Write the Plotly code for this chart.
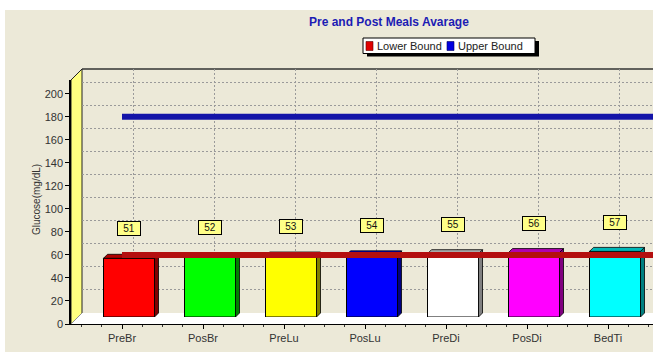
import plotly.graph_objects as go

# ---- data -------------------------------------------------------------
categories = ["PreBr", "PosBr", "PreLu", "PosLu", "PreDi", "PosDi", "BedTi"]
averages = [51, 52, 53, 54, 55, 56, 57]
lower_bound = 60
upper_bound = 180
y_ticks = list(range(0, 201, 20))

face_colors = ["#FF0000", "#00FF00", "#FFFF00", "#0000FF", "#FFFFFF", "#FF00FF", "#00FFFF"]
top_colors = ["#B00000", "#00B000", "#B0B000", "#0000B0", "#A8A8A8", "#B000B0", "#00B8B8"]
side_colors = ["#800000", "#008000", "#808000", "#000080", "#808080", "#800080", "#008080"]

# ---- geometry (pixels) -------------------------------------------------
W, H = 653, 352
H_DRAW = 346                  # vertical extent used when placing in paper units
FRONT_LEFT, RIGHT = 71, 653
FRONT_BOTTOM, FRONT_TOP = 324, 80
CAT0, STEP = 122, 81          # pixel of first category centre, px per category
Y_MAX = 212
BAR_DEPTH = 7                 # depth at which the bars stand
WALL_DEPTH = 11               # depth of the back wall
PX_PER_Y = (FRONT_BOTTOM - FRONT_TOP) / Y_MAX
FONT = "Liberation Sans, Arial, sans-serif"


def px(x):
    return x / W


def py(y):
    return 1 - y / H_DRAW


def plane(d):
    """Axis domains/ranges for a plane pushed d pixels into the depth."""
    xdom = [px(FRONT_LEFT + d), px(RIGHT)]
    xrng = [(FRONT_LEFT - CAT0) / STEP, (RIGHT - (CAT0 + d)) / STEP]
    ydom = [py(FRONT_BOTTOM - d), py(FRONT_TOP - d)]
    return xdom, xrng, ydom


def path(points):
    return "M " + " L ".join(f"{px(x)},{py(y)}" for x, y in points) + " Z"


back_x, back_xr, back_y = plane(WALL_DEPTH)
bar_x, bar_xr, bar_y = plane(BAR_DEPTH)
fr_x, fr_xr, fr_y = plane(0)

fig = go.Figure()

# invisible anchor trace so the back-wall subplot is laid out with its grid
fig.add_trace(go.Scatter(x=[0], y=[0], xaxis="x", yaxis="y", mode="markers",
                         marker=dict(opacity=0), showlegend=False, hoverinfo="skip"))

# ---- bars (bar plane) --------------------------------------------------
idx = list(range(len(categories)))
bw = 51 / STEP
dx = 4 / STEP
dy = 4 / PX_PER_Y

fig.add_trace(go.Bar(
    x=idx, y=averages, width=bw, xaxis="x2", yaxis="y2",
    marker=dict(color=face_colors, line=dict(color="black", width=1)),
    name="Average", showlegend=False, hoverinfo="x+y",
))

for i, v in enumerate(averages):
    xl, xr = i - bw / 2, i + bw / 2
    fig.add_trace(go.Scatter(
        x=[xr, xr + dx, xr + dx, xr, xr], y=[0, dy, v + dy, v, 0],
        xaxis="x2", yaxis="y2", mode="lines", fill="toself",
        fillcolor=side_colors[i], line=dict(color="black", width=0.8),
        showlegend=False, hoverinfo="skip",
    ))
    fig.add_trace(go.Scatter(
        x=[xl, xl + dx, xr + dx, xr, xl], y=[v, v + dy, v + dy, v, v],
        xaxis="x2", yaxis="y2", mode="lines", fill="toself",
        fillcolor=top_colors[i], line=dict(color="black", width=0.8),
        showlegend=False, hoverinfo="skip",
    ))

# ---- bound lines (front plane) -----------------------------------------
span = [0, len(categories)]
fig.add_trace(go.Scatter(
    x=span, y=[lower_bound] * 2, xaxis="x3", yaxis="y3", mode="lines",
    line=dict(color="#B40F0F", width=6), name="Lower Bound", showlegend=False,
))
fig.add_trace(go.Scatter(
    x=span, y=[upper_bound] * 2, xaxis="x3", yaxis="y3", mode="lines",
    line=dict(color="#1414A8", width=6), name="Upper Bound", showlegend=False,
))

# ---- walls, floor, legend box ------------------------------------------
shapes = [
    dict(type="rect", xref="paper", yref="paper", x0=px(5), x1=px(W + 5), y0=py(10), y1=py(H + 10),
         fillcolor="#ECE9D8", line=dict(width=0), layer="below"),
    dict(type="path", xref="paper", yref="paper",
         path=path([(FRONT_LEFT, FRONT_TOP), (FRONT_LEFT + WALL_DEPTH, FRONT_TOP - WALL_DEPTH),
                    (FRONT_LEFT + WALL_DEPTH, FRONT_BOTTOM - WALL_DEPTH), (FRONT_LEFT, FRONT_BOTTOM)]),
         fillcolor="#FFFF80", line=dict(color="#222", width=1), layer="below"),
    dict(type="path", xref="paper", yref="paper",
         path=path([(FRONT_LEFT, FRONT_BOTTOM), (FRONT_LEFT + WALL_DEPTH, FRONT_BOTTOM - WALL_DEPTH),
                    (W + 20, FRONT_BOTTOM - WALL_DEPTH), (W + 20, FRONT_BOTTOM)]),
         fillcolor="#FFFFFF", line=dict(width=0), layer="below"),
    dict(type="line", xref="paper", yref="paper",
         x0=px(FRONT_LEFT + WALL_DEPTH), x1=px(W + 20),
         y0=py(FRONT_TOP - WALL_DEPTH), y1=py(FRONT_TOP - WALL_DEPTH),
         line=dict(color="#333", width=1.5), layer="below"),
    # legend frame with drop shadow
    dict(type="rect", xref="paper", yref="paper", x0=px(367), x1=px(539), y0=py(41), y1=py(56.5),
         fillcolor="black", line=dict(width=0)),
    dict(type="rect", xref="paper", yref="paper", x0=px(363), x1=px(535), y0=py(38), y1=py(53.5),
         fillcolor="white", line=dict(color="black", width=1)),
    dict(type="rect", xref="paper", yref="paper", x0=px(366), x1=px(373), y0=py(41.5), y1=py(50.5),
         fillcolor="#E00000", line=dict(color="#600000", width=0.6)),
    dict(type="rect", xref="paper", yref="paper", x0=px(447), x1=px(454), y0=py(41.5), y1=py(50.5),
         fillcolor="#0000E0", line=dict(color="#000060", width=0.6)),
]

label_font = dict(family=FONT, size=11, color="#222")
annotations = [
    dict(text="<b>Pre and Post Meals Avarage</b>", xref="paper", yref="paper",
         x=px(389), y=py(22), xanchor="center", yanchor="middle", showarrow=False,
         font=dict(family=FONT, size=12, color="#1C1CB4")),
    dict(text="Lower Bound", xref="paper", yref="paper", x=px(375), y=py(46),
         xanchor="left", yanchor="middle", showarrow=False, font=label_font),
    dict(text="Upper Bound", xref="paper", yref="paper", x=px(456), y=py(46),
         xanchor="left", yanchor="middle", showarrow=False, font=label_font),
    dict(text="Glucose(mg/dL)", xref="paper", yref="paper", x=px(36), y=py(200), textangle=-90,
         xanchor="center", yanchor="middle", showarrow=False,
         font=dict(family=FONT, size=10, color="#333")),
]
for i, v in enumerate(averages):
    annotations.append(dict(
        text=str(v), xref="x2", yref="y2", x=i, y=v + 25.5, showarrow=False,
        xanchor="center", yanchor="middle",
        bgcolor="#FFFF88", bordercolor="black", borderwidth=1, borderpad=1,
        width=20, height=11, font=dict(family=FONT, size=10, color="#111"),
    ))

grid = dict(showgrid=True, gridcolor="#9A9A9A", gridwidth=1, griddash="2px,2px",
            showticklabels=False, showline=False, zeroline=False)

fig.update_layout(
    width=W, height=H, margin=dict(l=0, r=0, t=0, b=0),
    paper_bgcolor="white", plot_bgcolor="rgba(0,0,0,0)",
    showlegend=False, shapes=shapes, annotations=annotations,
    xaxis=dict(domain=back_x, range=back_xr, anchor="y", tickmode="array", tickvals=idx, **grid),
    yaxis=dict(domain=back_y, range=[0, Y_MAX], anchor="x", tickmode="array", tickvals=y_ticks, **grid),
    xaxis2=dict(domain=bar_x, range=bar_xr, anchor="y2", visible=False),
    yaxis2=dict(domain=bar_y, range=[0, Y_MAX], anchor="x2", visible=False),
    xaxis3=dict(domain=fr_x, range=fr_xr, anchor="y3", tickvals=idx, ticktext=categories,
                showgrid=False, zeroline=False, showline=True, linecolor="black", linewidth=1,
                ticks="outside", ticklen=4, tickcolor="black",
                minor=dict(dtick=0.25, tick0=0, ticks="outside", ticklen=2, tickcolor="#333"),
                tickfont=dict(family=FONT, size=11, color="#333")),
    yaxis3=dict(domain=fr_y, range=[0, Y_MAX], anchor="x3", tickvals=y_ticks,
                showgrid=False, zeroline=False, showline=True, linecolor="black", linewidth=1.5,
                ticks="outside", ticklen=4, tickcolor="black",
                tickfont=dict(family=FONT, size=11, color="#333")),
)

fig.write_html("out.html")
